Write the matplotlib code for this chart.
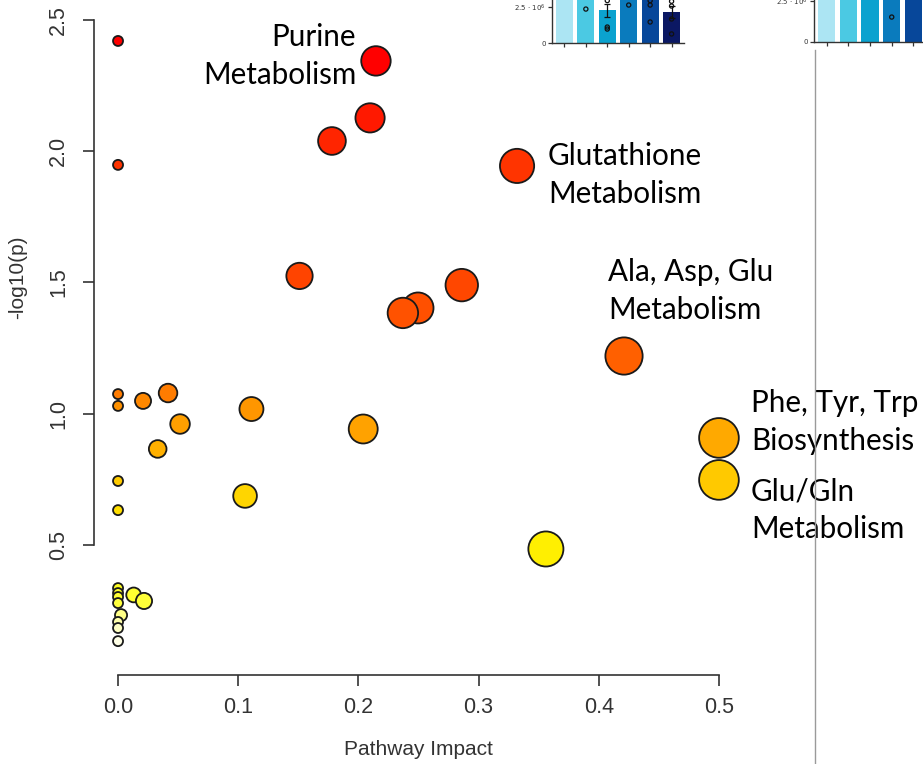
import numpy as np
import matplotlib.pyplot as plt
from matplotlib.colors import LinearSegmentedColormap, Normalize
from matplotlib.lines import Line2D

# pathway topology results
impact = [0, 0, 0.2146, 0.2097, 0.178, 0.332, 0.151, 0.286, 0.2496, 0.237,
          0.421, 0.5, 0.5, 0.356, 0.0416, 0.0208, 0, 0, 0.0516, 0.033,
          0.111, 0.204, 0.1057, 0, 0, 0, 0, 0, 0, 0.0025,
          0, 0, 0, 0.013, 0.0216]
neglogp = [2.42, 1.948, 2.344, 2.127, 2.039, 1.944, 1.525, 1.490, 1.403, 1.384,
           1.220, 0.908, 0.748, 0.485, 1.079, 1.049, 1.075, 1.030, 0.961, 0.866,
           1.018, 0.942, 0.687, 0.744, 0.633, 0.336, 0.317, 0.302, 0.279, 0.233,
           0.207, 0.184, 0.134, 0.310, 0.287]

labels = ["Purine\nMetabolism", "Glutathione\nMetabolism", "Ala, Asp, Glu\nMetabolism",
          "Phe, Tyr, Trp\nBiosynthesis", "Glu/Gln\nMetabolism"]
label_x = [0.198, 0.3577, 0.4077, 0.5266, 0.5266]
label_y = [2.363, 1.910, 1.468, 0.969, 0.633]
label_ha = ["right", "left", "left", "left", "left"]

xticks = [0.0, 0.1, 0.2, 0.3, 0.4, 0.5]
yticks = [0.5, 1.0, 1.5, 2.0, 2.5]

# neighbouring bar panels (only their lower part is in frame)
bar_colors = ["#ACE5F3", "#4BC9E3", "#0BA2CF", "#0A7BBD", "#07479A", "#0B1863"]
left_bars = [3.4e6, 3.4e6, 2.29e6, 3.4e6, 3.4e6, 2.15e6]
left_err = [0, 0, 0.45e6, 0, 0, 0.42e6]
left_pts = [[], [2.36e6], [1.11e6, 0.97e6, 2.95e6], [2.64e6],
            [2.95e6, 2.64e6, 1.46e6], [2.57e6, 1.67e6, 0.63e6, 2.9e6]]
right_bars = [3.0e6, 3.0e6, 3.0e6, 3.0e6, 3.0e6, 3.0e6]
right_pts = [[], [], [], [1.52e6], [], []]

W, H = 923, 764
fig = plt.figure(figsize=(W / 100, H / 100), dpi=100)

# heat colours keyed on significance
cmap = LinearSegmentedColormap.from_list("heat", [
    (0.0, "#FFFFE6"), (0.03, "#FFFFB0"), (0.045, "#FFFF80"), (0.06, "#FFFF40"),
    (0.09, "#FFFF20"), (0.155, "#FFEE00"), (0.22, "#FFDD00"), (0.27, "#FFC800"),
    (0.33, "#FFAA00"), (0.385, "#FF9400"), (0.41, "#FF7A00"), (0.47, "#FF6000"),
    (0.55, "#FF5000"), (0.60, "#FF4400"), (0.79, "#FF3300"), (0.83, "#FF2200"),
    (0.955, "#FF0000"), (1.0, "#FF0000")])
norm = Normalize(vmin=0.13, vmax=2.45)

ax = fig.add_axes([94 / W, 1 - 675 / H, 649 / W, 675 / H])
order = np.argsort(neglogp)[::-1]
x = np.array(impact)[order]
y = np.array(neglogp)[order]
r = 5 + 21 * np.sqrt(x)          # radius in px
ax.scatter(x, y, s=(1.44 * r) ** 2, c=cmap(norm(y)), edgecolors="#1a1a1a",
           linewidths=1.3, zorder=3, clip_on=False)

ax.set_xlim(-0.02, 0.52)
ax.set_ylim(0.005, 2.576)
for s in ["top", "right"]:
    ax.spines[s].set_visible(False)
ax.spines["left"].set_bounds(0.5, 2.5)
ax.spines["bottom"].set_bounds(0.0, 0.5)
for s in ["left", "bottom"]:
    ax.spines[s].set_color("#333333")
    ax.spines[s].set_linewidth(1.2)
ax.set_xticks(xticks)
ax.set_xticklabels([f"{v:.1f}" for v in xticks])
ax.set_yticks(yticks)
ax.set_yticklabels([f"{v:.1f}" for v in yticks], rotation=90, va="center")
ax.tick_params(length=8, width=1.2, color="#333333", labelcolor="#333333",
               labelsize=15.5, labelfontfamily="Liberation Sans")
ax.tick_params(axis="x", pad=8)
ax.tick_params(axis="y", pad=10)
ax.set_xlabel("Pathway Impact", fontsize=15, color="#333333",
              fontfamily="Liberation Sans")
ax.set_ylabel("-log10(p)", fontsize=15, color="#333333",
              fontfamily="Liberation Sans")
ax.xaxis.set_label_coords(0.5, -0.111)
ax.yaxis.set_label_coords(-0.117, (1.52 - 0.005) / 2.571)
ax.xaxis.label.set_va("center")
ax.yaxis.label.set_va("center")

for t, lx, ly, ha in zip(labels, label_x, label_y, label_ha):
    ax.text(lx, ly, t, ha=ha, va="center", fontsize=21.3, fontfamily="Lato",
            linespacing=1.425, color="black", clip_on=False, zorder=5)


def bar_panel(rect, heights, pts, err, ylim, xlim):
    b = fig.add_axes(rect)
    pos = np.arange(len(heights))
    b.bar(pos, heights, width=0.8, color=bar_colors[:len(heights)])
    if err is not None:
        b.errorbar(pos, heights, yerr=err, fmt="none", ecolor="#111111",
                   elinewidth=0.9, capsize=2.5, capthick=0.9)
    for i, vals in enumerate(pts):
        b.scatter([i] * len(vals), vals, s=9, facecolors="none",
                  edgecolors="#111111", linewidths=0.9, zorder=4)
    b.set_xlim(*xlim)
    b.set_ylim(*ylim)
    for s in ["top", "right"]:
        b.spines[s].set_visible(False)
    for s in ["left", "bottom"]:
        b.spines[s].set_linewidth(1.0)
        b.spines[s].set_color("#333333")
    b.set_xticks(pos)
    b.set_xticklabels([])
    b.set_yticks([0, 2.5e6])
    b.set_yticklabels(["0", "2.5 · 10$^6$"])
    b.tick_params(length=3, width=0.9, labelsize=5, pad=1.5,
                  labelcolor="#333333", color="#333333")
    b.set_facecolor("none")
    return b


bar_panel([552 / W, 1 - 43 / H, 132 / W, 43 / H], left_bars, left_pts, left_err,
          (0, 2.99e6), (-0.58, 5.58))
bar_panel([814 / W, 1 - 42 / H, 136 / W, 42 / H], right_bars, right_pts, None,
          (0, 2.56e6), (-0.575, 5.68))

# panel divider
fig.add_artist(Line2D([815 / W, 815 / W], [0, 1 - 50 / H], color="#9a9a9a",
                      linewidth=1.0, zorder=10))

fig.savefig("out.png", dpi=100)
